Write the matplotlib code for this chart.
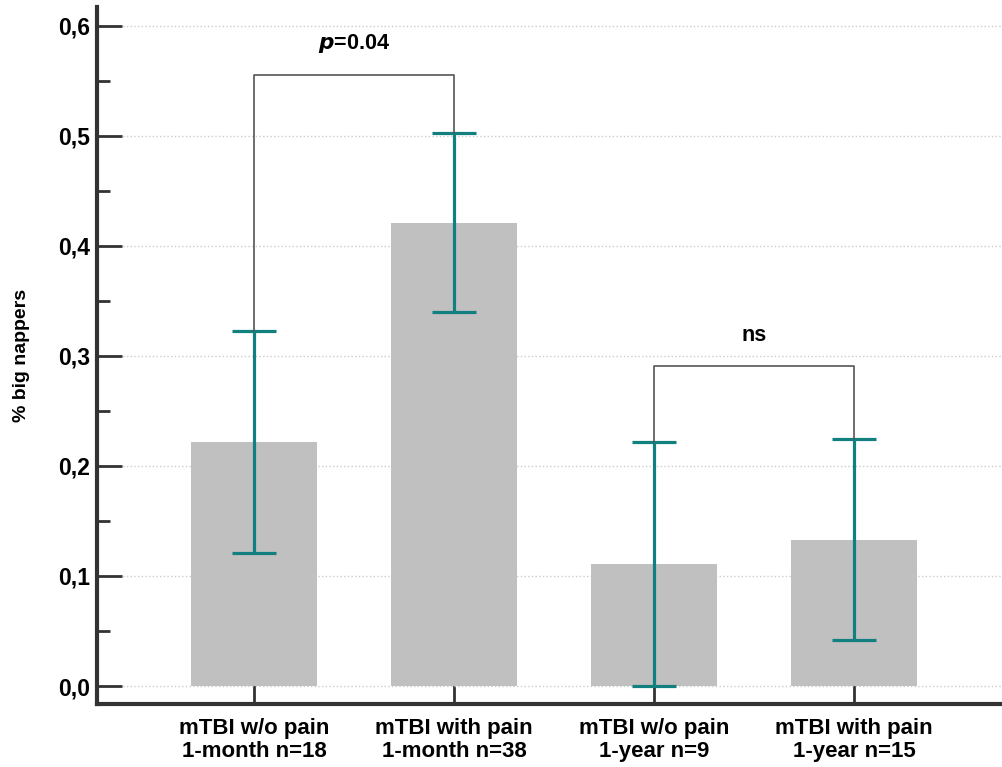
import matplotlib.pyplot as plt
from matplotlib.ticker import MultipleLocator, FuncFormatter

plt.rcParams['font.family'] = ['Liberation Sans', 'DejaVu Sans']

groups = ['mTBI w/o pain\n1-month n=18', 'mTBI with pain\n1-month n=38',
          'mTBI w/o pain\n1-year n=9', 'mTBI with pain\n1-year n=15']
share = [0.222, 0.421, 0.111, 0.133]
err = [0.101, 0.081, 0.111, 0.091]

bar_col = '#c0c0c0'
err_col = '#138080'

fig = plt.figure(figsize=(10.03, 7.67), dpi=100)
ax = fig.add_axes([0.097, 0.082, 0.903, 0.909])

x = list(range(len(groups)))
ax.bar(x, share, width=0.63, color=bar_col, zorder=2)
ax.errorbar(x, share, yerr=err, fmt='none', ecolor=err_col, elinewidth=2.3,
            capsize=16, capthick=2.3, zorder=3)

# significance brackets
def bracket(i, j, y, label):
    yi = share[i] + err[i]
    yj = share[j] + err[j]
    ax.plot([i, i, j, j], [yi, y, y, yj], color='#555555', lw=1.2, zorder=4)
    ax.text((i + j) / 2, y + 0.018, label, ha='center', va='bottom',
            fontsize=15.5, fontweight='bold')

bracket(0, 1, 0.5555, r'$\mathbfit{p}$' + '=0.04')
bracket(2, 3, 0.291, 'ns')

ax.set_xlim(-0.785, 3.745)
ax.set_ylim(-0.0164, 0.617)
ax.yaxis.set_major_locator(MultipleLocator(0.1))
ax.yaxis.set_minor_locator(MultipleLocator(0.05))
ax.yaxis.set_major_formatter(FuncFormatter(lambda v, p: f'{v:.1f}'.replace('.', ',')))
ax.set_xticks(x)
ax.set_xticklabels(groups, fontsize=16, fontweight='bold', linespacing=1.15)
for t in ax.get_yticklabels():
    t.set_fontweight('bold')
ax.tick_params(axis='y', which='major', direction='in', length=18, width=2,
               color='#333333', labelsize=16.5, pad=5)
ax.tick_params(axis='y', which='minor', direction='in', length=9, width=2,
               color='#333333')
ax.tick_params(axis='x', which='major', direction='in', length=16, width=2,
               color='#333333', pad=10)
ax.set_ylabel('% big nappers', fontsize=14, fontweight='bold', labelpad=20)

ax.grid(axis='y', which='major', color='#cccccc', linestyle=':', lw=1, zorder=0)
ax.set_axisbelow(True)
for s in ['top', 'right']:
    ax.spines[s].set_visible(False)
for s in ['left', 'bottom']:
    ax.spines[s].set_linewidth(3)
    ax.spines[s].set_color('#333333')

fig.savefig('out.png', dpi=100)
